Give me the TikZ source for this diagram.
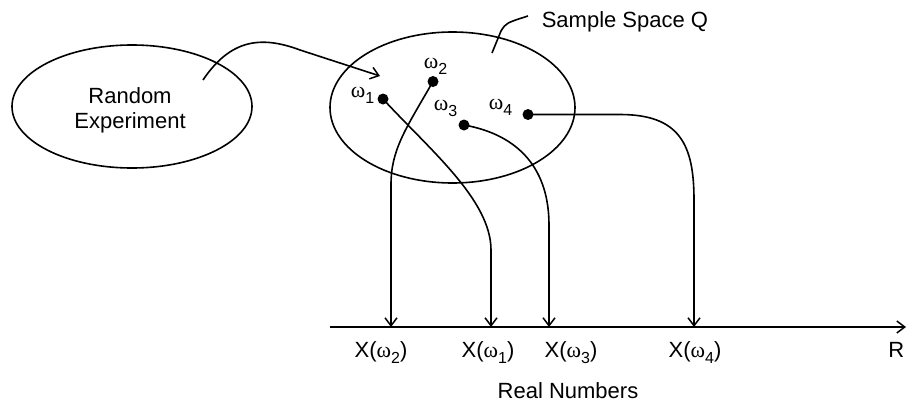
\documentclass[tikz,border=0pt]{standalone}
\usepackage{fontspec}
\setmainfont{Liberation Sans}
\newfontfamily\grk{Liberation Serif}
\usetikzlibrary{arrows.meta}
\newcommand{\wsub}[1]{{\grk ω}\raisebox{-6pt}{\fontsize{16}{16}\selectfont #1}}
\begin{document}
\begin{tikzpicture}[x=1pt,y=-1pt,
  line width=1.6pt,
  font=\fontsize{22}{25}\selectfont,
  dot/.style={circle,fill=black,inner sep=0pt,minimum size=11pt},
  lbl/.style={inner sep=0pt},
  tip/.style={-{Straight Barb[length=8pt,width=12pt,line width=1.5pt]}}]
\useasboundingbox (0,0) rectangle (906,402);
% ellipses
\draw (132,106.5) ellipse [x radius=120, y radius=61.5];
\node[lbl,anchor=base] (re) at (130,103) {Random};
\node[lbl,anchor=base] (re2) at (130,128) {Experiment};
\draw (452.5,107.5) ellipse [x radius=122.5, y radius=75.5];
% sample space label
\node[lbl,anchor=base west] (ss) at (541,27) {Sample Space Q};
\coordinate (ssa) at (492,53);
\coordinate (ssb) at (528,16);
\draw (ssa) -- (501,31) .. controls (506,23) .. (ssb);
% arrow from experiment
\coordinate (ea) at (203,80);
\coordinate (eb) at (380,76);
\draw[tip] (ea) .. controls (230,40) and (260,35) .. (300,50) -- (eb);
% dots
\node[dot] (w1) at (383,99) {};
\node[dot] (w2) at (433,81.5) {};
\node[dot] (w3) at (464,125) {};
\node[dot] (w4) at (528,114.5) {};
\node[lbl,anchor=base east] (l1) at (375,97) {\wsub{1}};
\node[lbl,anchor=base east] (l2) at (448,68) {\wsub{2}};
\node[lbl,anchor=base east] (l3) at (458,110) {\wsub{3}};
\node[lbl,anchor=base east] (l4) at (513,109) {\wsub{4}};
% axis
\coordinate (a0) at (330,327);
\coordinate (a1) at (906,327);
\draw[line width=2pt,tip] (a0) -- (a1);
\coordinate (x2) at (391,327);
\coordinate (x1) at (491,327);
\coordinate (x3) at (549,327);
\coordinate (x4) at (694,327);
% mappings
\draw[tip] (w2.center) .. controls (405,130) and (391,150) .. (391,185) -- (x2);
\draw[tip] (w1.center) .. controls (430,150) and (491,200) .. (491,250) -- (x1);
\draw[tip] (w3.center) .. controls (520,135) and (549,170) .. (549,225) -- (x3);
\draw[tip] (w4.center) -- (620,114.5) .. controls (680,114.5) and (694,145) .. (694,200) -- (x4);
% axis labels
\node[lbl,anchor=base] (t2) at (381,357) {X(\wsub{2})};
\node[lbl,anchor=base] (t1) at (488,357) {X(\wsub{1})};
\node[lbl,anchor=base] (t3) at (571,357) {X(\wsub{3})};
\node[lbl,anchor=base] (t4) at (695,357) {X(\wsub{4})};
\node[lbl,anchor=base east] (tr) at (905,357) {R};
\node[lbl,anchor=base] (rn) at (568,398) {Real Numbers};
\end{tikzpicture}
\end{document}
